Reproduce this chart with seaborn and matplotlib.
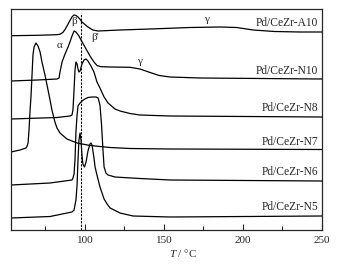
import matplotlib
matplotlib.use("Agg")
import matplotlib.pyplot as plt
import numpy as np
import seaborn as sns

# temperature (deg C) and signal (arbitrary units, offsets included)
t_a10 = [53.2, 70, 82.3, 84.2, 86, 87.4, 89, 90.5, 92, 93.1, 94.3, 95.6, 97, 98.1, 100,
         101.9, 105, 108.3, 122.2, 141.2, 166.5, 185.5, 196, 206.4, 220, 236, 250]
s_a10 = [194.3, 194.7, 195.3, 195.8, 197.5, 200.5, 205, 209.5, 213.5, 215, 214.5, 213, 210.5,
         208, 205.5, 203, 200, 199, 200, 201, 202.5, 203, 202.5, 200, 198.5, 198, 198]

t_n10 = [53.2, 70, 82.3, 83.6, 84.2, 85.5, 87.4, 89.3, 90.5, 91.8, 93.1, 94.3, 96.2, 97.5,
         100.0, 103.2, 105.7, 107.6, 110, 116, 128.5, 134.8, 141.2, 147, 153.8, 172.8, 250]
s_n10 = [149, 150, 151, 152, 158, 168, 176, 183, 188, 194, 199, 198, 194, 190,
         183, 174, 168, 164.5, 163.3, 163, 162.7, 161, 157.5, 154.5, 153, 152, 151]

t_n8 = [53.2, 82.3, 90.5, 91.8, 92.4, 93.1, 93.7, 94.3, 95.0, 95.6, 96.2, 96.9, 98.1, 99.4,
        100.7, 101.9, 103.8, 105.7, 107.6, 109.5, 112.1, 114.6, 119, 122.2, 128.5, 134.8,
        153.8, 250]
s_n8 = [111, 112.5, 114, 115, 120, 140, 160, 168, 166, 161, 158, 159, 166, 170,
        171, 169, 164, 158, 148, 142, 133, 127, 121, 119, 116.5, 115,
        114, 113]

t_n7 = [53.2, 58.9, 62.7, 63.3, 64.0, 64.6, 65.2, 65.9, 66.5, 67.1, 67.8, 69.0, 70.3, 71.6,
        72.8, 74.7, 76.0, 77.9, 79.1, 81.0, 82.3, 84.2, 88.6, 95.0, 103.2, 115.9, 128.5,
        153.8, 250]
s_n7 = [78, 80, 82, 83.5, 87, 100, 118, 135, 155, 175, 183, 187, 184, 178,
        168, 155, 145, 130, 120, 108, 102, 97, 91, 87, 84.5, 82.5, 81.5,
        81, 80.5]

t_n6 = [53.2, 77.9, 91.8, 92.4, 93.1, 93.7, 94.3, 95.0, 95.6, 96.9, 98.1, 100.0, 101.9,
        104.5, 107.0, 108.3, 109.5, 110.5, 111.4, 112.1, 113.3, 114.6, 119.0, 124.1, 134.8,
        153.8, 250]
s_n6 = [45, 47, 50, 52, 56, 70, 98, 115, 124, 127, 129, 131, 132.5,
        133, 133, 132, 125, 105, 80, 63, 57, 55, 53, 52.5, 51.5,
        50, 49]

t_n5 = [53.2, 77.9, 91.8, 93.1, 94.3, 95.0, 95.6, 96.2, 96.9, 97.5, 98.1, 98.7, 99.7,
        100.7, 101.9, 103.2, 103.8, 104.5, 105.7, 106.4, 107.6, 109.5, 112.1, 114.0, 115.9,
        122.2, 130.4, 153.8, 250]
s_n5 = [12, 13.5, 18, 20, 30, 45, 70, 90, 97, 90, 75, 66, 63,
        68, 79, 86, 87, 85, 72, 63, 55, 43, 31, 26, 22,
        17, 14, 13, 14]

curves = [(t_a10, s_a10), (t_n10, s_n10), (t_n8, s_n8),
          (t_n7, s_n7), (t_n6, s_n6), (t_n5, s_n5)]
names = ["Pd/CeZr-A10", "Pd/CeZr-N10", "Pd/CeZr-N8",
         "Pd/CeZr-N7", "Pd/CeZr-N6", "Pd/CeZr-N5"]
name_y = [207, 159, 122, 88, 58, 23]

peak_text = ["\u03b2", "\u03b1", "\u03b2'", "\u03b3", "\u03b3"]
peak_t = [93.1, 83.6, 106.4, 134.8, 177]
peak_s = [208, 184, 192, 169, 211]

t_ref = 97.3


def main():
    sns.set_style("ticks")
    plt.rcParams["font.family"] = ["Liberation Serif", "DejaVu Serif"]
    plt.rcParams["mathtext.fontset"] = "custom"
    plt.rcParams["mathtext.rm"] = "Liberation Serif"
    plt.rcParams["mathtext.it"] = "Liberation Serif:italic"

    fig = plt.figure(figsize=(3.38, 2.68), dpi=100)
    ax = fig.add_axes([11 / 338, 38 / 268, 311 / 338, 221 / 268])

    for t, s in curves:
        sns.lineplot(x=t, y=s, color="black", linewidth=0.9, ax=ax, sort=False)

    ax.axvline(t_ref, ymin=0, ymax=0.98, color="black", linestyle=(0, (2, 1.2)),
               linewidth=0.8)

    for name, y in zip(names, name_y):
        ax.text(247.5, y, name, ha="right", va="center", fontsize=8.3)
    for txt, t, s in zip(peak_text, peak_t, peak_s):
        ax.text(t, s, txt, ha="center", va="center", fontsize=8)

    ax.set_xlim(53.2, 250)
    ax.set_ylim(0, 221)
    ax.set_xticks([100, 150, 200, 250])
    ax.set_xticks([75, 125, 175, 225], minor=True)
    ax.set_yticks([])
    ax.tick_params(axis="x", which="major", direction="in", length=4, width=0.8,
                   labelsize=8, pad=4)
    ax.tick_params(axis="x", which="minor", direction="in", length=3, width=0.8)
    for sp in ax.spines.values():
        sp.set_visible(True)
        sp.set_linewidth(0.9)
    ax.set_xlabel("$T$ / \u00b0C", fontsize=8)
    ax.xaxis.set_label_coords(0.553, -0.075)
    ax.set_ylabel("")

    fig.savefig("out.png", dpi=100)


if __name__ == "__main__":
    main()
